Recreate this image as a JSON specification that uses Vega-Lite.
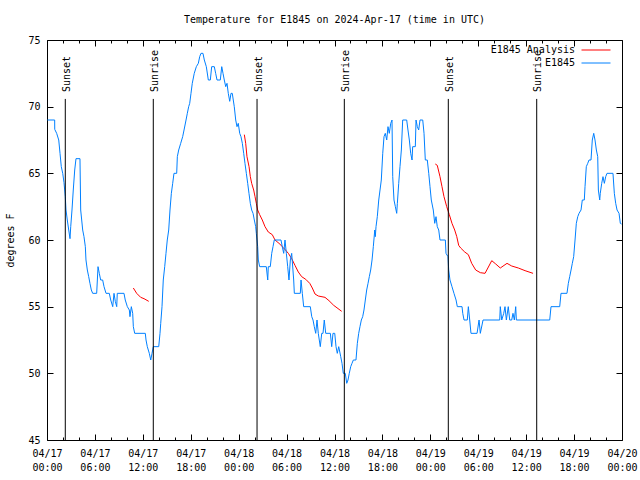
{
  "$schema": "https://vega.github.io/schema/vega-lite/v6.json",
  "width": 575,
  "height": 400,
  "autosize": {"type": "none"},
  "padding": {"left": 47, "top": 40, "right": 18, "bottom": 40},
  "background": "white",
  "title": {"text": "Temperature for E1845 on 2024-Apr-17 (time in UTC)", "font": "DejaVu Sans Mono", "fontSize": 10, "fontWeight": "normal", "color": "black", "anchor": "middle", "offset": 10},
  "config": {
    "view": {"stroke": "black", "strokeWidth": 1},
    "axis": {"grid": false, "domain": false, "labelFont": "DejaVu Sans Mono", "labelFontSize": 10, "labelColor": "black", "tickColor": "black", "tickWidth": 1, "titleFont": "DejaVu Sans Mono", "titleFontSize": 10, "titleFontWeight": "normal", "titleColor": "black"},
    "legend": {"title": null, "orient": "none", "legendX": 543.5, "legendY": 4.5, "labelAlign": "right", "labelOffset": -26.5, "symbolType": "M-2.9,0H2.9", "symbolSize": 100, "symbolStrokeWidth": 1, "labelFont": "DejaVu Sans Mono", "labelFontSize": 10, "labelColor": "black", "rowPadding": 2, "padding": 0}
  },
  "datasets": {
    "temps": [
      {"h":0.05,"t":69,"s":"E1845","r":"b"},{"h":0.96,"t":69,"s":"E1845","r":"b"},{"h":0.97,"t":68.3,"s":"E1845","r":"b"},{"h":1.21,"t":68,"s":"E1845","r":"b"},{"h":1.47,"t":67.5,"s":"E1845","r":"b"},{"h":1.63,"t":66.5,"s":"E1845","r":"b"},{"h":1.79,"t":65.5,"s":"E1845","r":"b"},{"h":1.97,"t":65,"s":"E1845","r":"b"},{"h":2.13,"t":64.3,"s":"E1845","r":"b"},{"h":2.29,"t":63.25,"s":"E1845","r":"b"},{"h":2.38,"t":62.25,"s":"E1845","r":"b"},{"h":2.54,"t":61.5,"s":"E1845","r":"b"},{"h":2.72,"t":60.75,"s":"E1845","r":"b"},{"h":2.88,"t":60.1,"s":"E1845","r":"b"},{"h":2.97,"t":61,"s":"E1845","r":"b"},{"h":3.13,"t":62.25,"s":"E1845","r":"b"},{"h":3.29,"t":63.75,"s":"E1845","r":"b"},{"h":3.47,"t":65.25,"s":"E1845","r":"b"},{"h":3.63,"t":66.1,"s":"E1845","r":"b"},{"h":4.13,"t":66.1,"s":"E1845","r":"b"},{"h":4.22,"t":62.25,"s":"E1845","r":"b"},{"h":4.47,"t":60.75,"s":"E1845","r":"b"},{"h":4.63,"t":60.25,"s":"E1845","r":"b"},{"h":4.8,"t":59.5,"s":"E1845","r":"b"},{"h":4.88,"t":58.5,"s":"E1845","r":"b"},{"h":5.05,"t":57.75,"s":"E1845","r":"b"},{"h":5.22,"t":57.25,"s":"E1845","r":"b"},{"h":5.38,"t":56.75,"s":"E1845","r":"b"},{"h":5.55,"t":56.25,"s":"E1845","r":"b"},{"h":5.72,"t":56,"s":"E1845","r":"b"},{"h":6.22,"t":56,"s":"E1845","r":"b"},{"h":6.39,"t":58,"s":"E1845","r":"b"},{"h":6.55,"t":57.5,"s":"E1845","r":"b"},{"h":6.72,"t":57,"s":"E1845","r":"b"},{"h":6.97,"t":57,"s":"E1845","r":"b"},{"h":7.14,"t":56.5,"s":"E1845","r":"b"},{"h":7.39,"t":56,"s":"E1845","r":"b"},{"h":7.8,"t":56,"s":"E1845","r":"b"},{"h":7.98,"t":55.5,"s":"E1845","r":"b"},{"h":8.23,"t":55,"s":"E1845","r":"b"},{"h":8.39,"t":56,"s":"E1845","r":"b"},{"h":8.55,"t":55.4,"s":"E1845","r":"b"},{"h":8.73,"t":55,"s":"E1845","r":"b"},{"h":8.8,"t":56,"s":"E1845","r":"b"},{"h":9.64,"t":56,"s":"E1845","r":"b"},{"h":9.8,"t":55.5,"s":"E1845","r":"b"},{"h":10.06,"t":55,"s":"E1845","r":"b"},{"h":10.31,"t":54.75,"s":"E1845","r":"b"},{"h":10.39,"t":54.25,"s":"E1845","r":"b"},{"h":10.56,"t":55,"s":"E1845","r":"b"},{"h":10.73,"t":54.5,"s":"E1845","r":"b"},{"h":10.81,"t":53.5,"s":"E1845","r":"b"},{"h":10.98,"t":53,"s":"E1845","r":"b"},{"h":12.31,"t":53,"s":"E1845","r":"b"},{"h":12.4,"t":52.5,"s":"E1845","r":"b"},{"h":12.56,"t":52,"s":"E1845","r":"b"},{"h":12.81,"t":51.5,"s":"E1845","r":"b"},{"h":12.99,"t":51,"s":"E1845","r":"b"},{"h":13.15,"t":51.5,"s":"E1845","r":"b"},{"h":13.31,"t":52,"s":"E1845","r":"b"},{"h":13.99,"t":52,"s":"E1845","r":"b"},{"h":14.15,"t":53,"s":"E1845","r":"b"},{"h":14.24,"t":53.75,"s":"E1845","r":"b"},{"h":14.4,"t":55,"s":"E1845","r":"b"},{"h":14.56,"t":57,"s":"E1845","r":"b"},{"h":14.74,"t":58,"s":"E1845","r":"b"},{"h":14.9,"t":59,"s":"E1845","r":"b"},{"h":15.06,"t":60,"s":"E1845","r":"b"},{"h":15.24,"t":60.75,"s":"E1845","r":"b"},{"h":15.4,"t":62.25,"s":"E1845","r":"b"},{"h":15.57,"t":63.5,"s":"E1845","r":"b"},{"h":15.74,"t":64.25,"s":"E1845","r":"b"},{"h":15.9,"t":65,"s":"E1845","r":"b"},{"h":16.24,"t":65,"s":"E1845","r":"b"},{"h":16.32,"t":66.25,"s":"E1845","r":"b"},{"h":16.49,"t":66.75,"s":"E1845","r":"b"},{"h":16.74,"t":67.25,"s":"E1845","r":"b"},{"h":16.99,"t":67.75,"s":"E1845","r":"b"},{"h":17.16,"t":68.25,"s":"E1845","r":"b"},{"h":17.41,"t":69,"s":"E1845","r":"b"},{"h":17.57,"t":69.5,"s":"E1845","r":"b"},{"h":17.74,"t":70,"s":"E1845","r":"b"},{"h":17.87,"t":70.25,"s":"E1845","r":"b"},{"h":18.03,"t":71,"s":"E1845","r":"b"},{"h":18.19,"t":71.75,"s":"E1845","r":"b"},{"h":18.44,"t":72.5,"s":"E1845","r":"b"},{"h":18.7,"t":73,"s":"E1845","r":"b"},{"h":18.95,"t":73.25,"s":"E1845","r":"b"},{"h":19.12,"t":73.75,"s":"E1845","r":"b"},{"h":19.28,"t":74,"s":"E1845","r":"b"},{"h":19.53,"t":74,"s":"E1845","r":"b"},{"h":19.7,"t":73.5,"s":"E1845","r":"b"},{"h":19.95,"t":73,"s":"E1845","r":"b"},{"h":20.2,"t":72,"s":"E1845","r":"b"},{"h":20.45,"t":72,"s":"E1845","r":"b"},{"h":20.62,"t":73,"s":"E1845","r":"b"},{"h":20.95,"t":73,"s":"E1845","r":"b"},{"h":21.12,"t":72.5,"s":"E1845","r":"b"},{"h":21.29,"t":72,"s":"E1845","r":"b"},{"h":21.7,"t":72,"s":"E1845","r":"b"},{"h":21.88,"t":73,"s":"E1845","r":"b"},{"h":22.04,"t":72.5,"s":"E1845","r":"b"},{"h":22.2,"t":72,"s":"E1845","r":"b"},{"h":22.38,"t":71.5,"s":"E1845","r":"b"},{"h":22.54,"t":71.75,"s":"E1845","r":"b"},{"h":22.7,"t":71,"s":"E1845","r":"b"},{"h":22.88,"t":70.4,"s":"E1845","r":"b"},{"h":23.04,"t":71,"s":"E1845","r":"b"},{"h":23.2,"t":71,"s":"E1845","r":"b"},{"h":23.45,"t":70,"s":"E1845","r":"b"},{"h":23.63,"t":69,"s":"E1845","r":"b"},{"h":23.79,"t":68.5,"s":"E1845","r":"b"},{"h":23.95,"t":68.75,"s":"E1845","r":"b"},{"h":24.13,"t":68,"s":"E1845","r":"b"},{"h":24.29,"t":67.75,"s":"E1845","r":"b"},{"h":24.46,"t":67.25,"s":"E1845","r":"b"},{"h":24.63,"t":66.5,"s":"E1845","r":"b"},{"h":24.79,"t":65.75,"s":"E1845","r":"b"},{"h":24.96,"t":65,"s":"E1845","r":"b"},{"h":25.13,"t":64.25,"s":"E1845","r":"b"},{"h":25.29,"t":63.5,"s":"E1845","r":"b"},{"h":25.46,"t":62.75,"s":"E1845","r":"b"},{"h":25.63,"t":62.25,"s":"E1845","r":"b"},{"h":25.8,"t":62,"s":"E1845","r":"b"},{"h":25.96,"t":61.5,"s":"E1845","r":"b"},{"h":26.13,"t":61,"s":"E1845","r":"b"},{"h":26.21,"t":60.5,"s":"E1845","r":"b"},{"h":26.38,"t":59.5,"s":"E1845","r":"b"},{"h":26.46,"t":58.5,"s":"E1845","r":"b"},{"h":26.63,"t":58,"s":"E1845","r":"b"},{"h":27.46,"t":58,"s":"E1845","r":"b"},{"h":27.64,"t":57,"s":"E1845","r":"b"},{"h":27.71,"t":58,"s":"E1845","r":"b"},{"h":27.96,"t":58,"s":"E1845","r":"b"},{"h":28.14,"t":59,"s":"E1845","r":"b"},{"h":28.3,"t":59.5,"s":"E1845","r":"b"},{"h":28.46,"t":60,"s":"E1845","r":"b"},{"h":29.3,"t":60,"s":"E1845","r":"b"},{"h":29.46,"t":59.5,"s":"E1845","r":"b"},{"h":29.64,"t":59,"s":"E1845","r":"b"},{"h":29.8,"t":60,"s":"E1845","r":"b"},{"h":29.97,"t":59,"s":"E1845","r":"b"},{"h":30.14,"t":58,"s":"E1845","r":"b"},{"h":30.3,"t":57,"s":"E1845","r":"b"},{"h":30.47,"t":58.5,"s":"E1845","r":"b"},{"h":30.64,"t":59,"s":"E1845","r":"b"},{"h":30.89,"t":57,"s":"E1845","r":"b"},{"h":30.97,"t":56,"s":"E1845","r":"b"},{"h":31.72,"t":56,"s":"E1845","r":"b"},{"h":31.81,"t":57,"s":"E1845","r":"b"},{"h":31.97,"t":56,"s":"E1845","r":"b"},{"h":32.14,"t":55,"s":"E1845","r":"b"},{"h":32.97,"t":55,"s":"E1845","r":"b"},{"h":33.15,"t":54.25,"s":"E1845","r":"b"},{"h":33.31,"t":54,"s":"E1845","r":"b"},{"h":33.47,"t":53.5,"s":"E1845","r":"b"},{"h":33.65,"t":53,"s":"E1845","r":"b"},{"h":33.81,"t":54,"s":"E1845","r":"b"},{"h":33.97,"t":53,"s":"E1845","r":"b"},{"h":34.22,"t":52,"s":"E1845","r":"b"},{"h":34.4,"t":53,"s":"E1845","r":"b"},{"h":34.56,"t":53,"s":"E1845","r":"b"},{"h":34.72,"t":54,"s":"E1845","r":"b"},{"h":34.9,"t":53,"s":"E1845","r":"b"},{"h":35.48,"t":53,"s":"E1845","r":"b"},{"h":35.65,"t":52,"s":"E1845","r":"b"},{"h":35.81,"t":53,"s":"E1845","r":"b"},{"h":36.03,"t":53,"s":"E1845","r":"b"},{"h":36.19,"t":52,"s":"E1845","r":"b"},{"h":36.35,"t":51.5,"s":"E1845","r":"b"},{"h":36.53,"t":52,"s":"E1845","r":"b"},{"h":36.78,"t":51.25,"s":"E1845","r":"b"},{"h":36.94,"t":50.75,"s":"E1845","r":"b"},{"h":37.1,"t":50,"s":"E1845","r":"b"},{"h":37.35,"t":50,"s":"E1845","r":"b"},{"h":37.53,"t":49.25,"s":"E1845","r":"b"},{"h":37.69,"t":49.5,"s":"E1845","r":"b"},{"h":37.85,"t":50,"s":"E1845","r":"b"},{"h":38.03,"t":50.5,"s":"E1845","r":"b"},{"h":38.19,"t":50.75,"s":"E1845","r":"b"},{"h":38.36,"t":51,"s":"E1845","r":"b"},{"h":38.69,"t":51,"s":"E1845","r":"b"},{"h":38.86,"t":52.25,"s":"E1845","r":"b"},{"h":39.03,"t":53,"s":"E1845","r":"b"},{"h":39.19,"t":53.5,"s":"E1845","r":"b"},{"h":39.36,"t":54,"s":"E1845","r":"b"},{"h":39.53,"t":54.25,"s":"E1845","r":"b"},{"h":39.69,"t":54.75,"s":"E1845","r":"b"},{"h":39.86,"t":55.5,"s":"E1845","r":"b"},{"h":40.03,"t":56.25,"s":"E1845","r":"b"},{"h":40.2,"t":56.75,"s":"E1845","r":"b"},{"h":40.36,"t":57.25,"s":"E1845","r":"b"},{"h":40.53,"t":57.75,"s":"E1845","r":"b"},{"h":40.7,"t":58.5,"s":"E1845","r":"b"},{"h":40.86,"t":59.5,"s":"E1845","r":"b"},{"h":41.04,"t":60.75,"s":"E1845","r":"b"},{"h":41.11,"t":60.25,"s":"E1845","r":"b"},{"h":41.2,"t":61,"s":"E1845","r":"b"},{"h":41.36,"t":61.75,"s":"E1845","r":"b"},{"h":41.54,"t":63,"s":"E1845","r":"b"},{"h":41.7,"t":63.75,"s":"E1845","r":"b"},{"h":41.86,"t":64.5,"s":"E1845","r":"b"},{"h":42.04,"t":66.5,"s":"E1845","r":"b"},{"h":42.2,"t":67.75,"s":"E1845","r":"b"},{"h":42.36,"t":68,"s":"E1845","r":"b"},{"h":42.54,"t":67.5,"s":"E1845","r":"b"},{"h":42.7,"t":68.5,"s":"E1845","r":"b"},{"h":42.86,"t":68,"s":"E1845","r":"b"},{"h":43.04,"t":68.75,"s":"E1845","r":"b"},{"h":43.2,"t":69,"s":"E1845","r":"b"},{"h":43.29,"t":64.75,"s":"E1845","r":"b"},{"h":43.45,"t":63,"s":"E1845","r":"b"},{"h":43.62,"t":62.5,"s":"E1845","r":"b"},{"h":43.79,"t":62,"s":"E1845","r":"b"},{"h":43.87,"t":62.75,"s":"E1845","r":"b"},{"h":44.04,"t":64.25,"s":"E1845","r":"b"},{"h":44.2,"t":65.5,"s":"E1845","r":"b"},{"h":44.37,"t":66.75,"s":"E1845","r":"b"},{"h":44.54,"t":69,"s":"E1845","r":"b"},{"h":45.04,"t":69,"s":"E1845","r":"b"},{"h":45.2,"t":68.25,"s":"E1845","r":"b"},{"h":45.37,"t":67.5,"s":"E1845","r":"b"},{"h":45.54,"t":66.5,"s":"E1845","r":"b"},{"h":45.71,"t":66,"s":"E1845","r":"b"},{"h":45.79,"t":67,"s":"E1845","r":"b"},{"h":46.12,"t":67,"s":"E1845","r":"b"},{"h":46.21,"t":69,"s":"E1845","r":"b"},{"h":46.37,"t":68.5,"s":"E1845","r":"b"},{"h":46.54,"t":68.25,"s":"E1845","r":"b"},{"h":46.71,"t":69,"s":"E1845","r":"b"},{"h":47.05,"t":69,"s":"E1845","r":"b"},{"h":47.21,"t":68,"s":"E1845","r":"b"},{"h":47.37,"t":66,"s":"E1845","r":"b"},{"h":47.62,"t":66,"s":"E1845","r":"b"},{"h":47.8,"t":65,"s":"E1845","r":"b"},{"h":47.96,"t":64,"s":"E1845","r":"b"},{"h":48.12,"t":63,"s":"E1845","r":"b"},{"h":48.37,"t":62.25,"s":"E1845","r":"b"},{"h":48.55,"t":61.25,"s":"E1845","r":"b"},{"h":48.71,"t":61.75,"s":"E1845","r":"b"},{"h":48.87,"t":61,"s":"E1845","r":"b"},{"h":49.05,"t":60.75,"s":"E1845","r":"b"},{"h":49.21,"t":60,"s":"E1845","r":"b"},{"h":49.88,"t":60,"s":"E1845","r":"b"},{"h":49.96,"t":59,"s":"E1845","r":"b"},{"h":50.21,"t":58.75,"s":"E1845","r":"b"},{"h":50.3,"t":57.75,"s":"E1845","r":"b"},{"h":50.46,"t":57,"s":"E1845","r":"b"},{"h":50.71,"t":56.5,"s":"E1845","r":"b"},{"h":50.96,"t":56,"s":"E1845","r":"b"},{"h":51.22,"t":55.5,"s":"E1845","r":"b"},{"h":51.38,"t":55,"s":"E1845","r":"b"},{"h":51.97,"t":55,"s":"E1845","r":"b"},{"h":52.06,"t":54.5,"s":"E1845","r":"b"},{"h":52.22,"t":54,"s":"E1845","r":"b"},{"h":52.63,"t":54,"s":"E1845","r":"b"},{"h":52.76,"t":55,"s":"E1845","r":"b"},{"h":52.93,"t":54,"s":"E1845","r":"b"},{"h":53.09,"t":53,"s":"E1845","r":"b"},{"h":53.85,"t":53,"s":"E1845","r":"b"},{"h":54.1,"t":54,"s":"E1845","r":"b"},{"h":54.26,"t":53,"s":"E1845","r":"b"},{"h":54.6,"t":54,"s":"E1845","r":"b"},{"h":56.69,"t":54,"s":"E1845","r":"b"},{"h":56.76,"t":55,"s":"E1845","r":"b"},{"h":56.94,"t":54,"s":"E1845","r":"b"},{"h":57.19,"t":54.5,"s":"E1845","r":"b"},{"h":57.35,"t":55,"s":"E1845","r":"b"},{"h":57.52,"t":54,"s":"E1845","r":"b"},{"h":57.76,"t":55,"s":"E1845","r":"b"},{"h":57.94,"t":54,"s":"E1845","r":"b"},{"h":58.19,"t":54,"s":"E1845","r":"b"},{"h":58.35,"t":54.5,"s":"E1845","r":"b"},{"h":58.52,"t":54,"s":"E1845","r":"b"},{"h":58.69,"t":55,"s":"E1845","r":"b"},{"h":58.77,"t":54,"s":"E1845","r":"b"},{"h":62.95,"t":54,"s":"E1845","r":"b"},{"h":63.11,"t":55,"s":"E1845","r":"b"},{"h":64.2,"t":55,"s":"E1845","r":"b"},{"h":64.36,"t":56,"s":"E1845","r":"b"},{"h":65.11,"t":56,"s":"E1845","r":"b"},{"h":65.28,"t":56.75,"s":"E1845","r":"b"},{"h":65.45,"t":57.25,"s":"E1845","r":"b"},{"h":65.62,"t":57.75,"s":"E1845","r":"b"},{"h":65.78,"t":58.25,"s":"E1845","r":"b"},{"h":65.95,"t":58.75,"s":"E1845","r":"b"},{"h":66.12,"t":60,"s":"E1845","r":"b"},{"h":66.28,"t":61.25,"s":"E1845","r":"b"},{"h":66.46,"t":61.75,"s":"E1845","r":"b"},{"h":66.62,"t":62,"s":"E1845","r":"b"},{"h":66.87,"t":62.25,"s":"E1845","r":"b"},{"h":67.03,"t":63,"s":"E1845","r":"b"},{"h":67.28,"t":63,"s":"E1845","r":"b"},{"h":67.37,"t":64,"s":"E1845","r":"b"},{"h":67.53,"t":65.5,"s":"E1845","r":"b"},{"h":67.71,"t":65.75,"s":"E1845","r":"b"},{"h":67.87,"t":66,"s":"E1845","r":"b"},{"h":68.12,"t":66,"s":"E1845","r":"b"},{"h":68.28,"t":67.5,"s":"E1845","r":"b"},{"h":68.46,"t":68,"s":"E1845","r":"b"},{"h":68.62,"t":67.5,"s":"E1845","r":"b"},{"h":68.79,"t":66.75,"s":"E1845","r":"b"},{"h":68.96,"t":66.25,"s":"E1845","r":"b"},{"h":69.04,"t":63.75,"s":"E1845","r":"b"},{"h":69.21,"t":63,"s":"E1845","r":"b"},{"h":69.28,"t":63.5,"s":"E1845","r":"b"},{"h":69.46,"t":64.25,"s":"E1845","r":"b"},{"h":69.62,"t":64.75,"s":"E1845","r":"b"},{"h":69.79,"t":64.25,"s":"E1845","r":"b"},{"h":69.96,"t":64.75,"s":"E1845","r":"b"},{"h":70.12,"t":65,"s":"E1845","r":"b"},{"h":70.87,"t":65,"s":"E1845","r":"b"},{"h":71.04,"t":63.5,"s":"E1845","r":"b"},{"h":71.21,"t":62.75,"s":"E1845","r":"b"},{"h":71.38,"t":62.25,"s":"E1845","r":"b"},{"h":71.63,"t":62,"s":"E1845","r":"b"},{"h":71.79,"t":61.25,"s":"E1845","r":"b"},{"h":71.95,"t":61.2,"s":"E1845","r":"b"},
      {"h":10.81,"t":56.4,"s":"E1845 Analysis","r":"a1"},{"h":11.23,"t":56,"s":"E1845 Analysis","r":"a1"},{"h":11.73,"t":55.7,"s":"E1845 Analysis","r":"a1"},{"h":12.15,"t":55.6,"s":"E1845 Analysis","r":"a1"},{"h":12.74,"t":55.4,"s":"E1845 Analysis","r":"a1"},
      {"h":24.71,"t":67.9,"s":"E1845 Analysis","r":"a2"},{"h":24.88,"t":67.25,"s":"E1845 Analysis","r":"a2"},{"h":25.04,"t":66.25,"s":"E1845 Analysis","r":"a2"},{"h":25.3,"t":65.5,"s":"E1845 Analysis","r":"a2"},{"h":25.46,"t":64.75,"s":"E1845 Analysis","r":"a2"},{"h":25.63,"t":64.25,"s":"E1845 Analysis","r":"a2"},{"h":25.88,"t":63.75,"s":"E1845 Analysis","r":"a2"},{"h":26.05,"t":63.25,"s":"E1845 Analysis","r":"a2"},{"h":26.21,"t":62.75,"s":"E1845 Analysis","r":"a2"},{"h":26.38,"t":62.25,"s":"E1845 Analysis","r":"a2"},{"h":26.63,"t":61.9,"s":"E1845 Analysis","r":"a2"},{"h":26.96,"t":61.5,"s":"E1845 Analysis","r":"a2"},{"h":27.3,"t":61,"s":"E1845 Analysis","r":"a2"},{"h":27.71,"t":60.6,"s":"E1845 Analysis","r":"a2"},{"h":28.21,"t":60.4,"s":"E1845 Analysis","r":"a2"},{"h":28.55,"t":60,"s":"E1845 Analysis","r":"a2"},{"h":29.05,"t":59.75,"s":"E1845 Analysis","r":"a2"},{"h":29.64,"t":59.4,"s":"E1845 Analysis","r":"a2"},{"h":30.22,"t":59,"s":"E1845 Analysis","r":"a2"},{"h":30.64,"t":58.6,"s":"E1845 Analysis","r":"a2"},{"h":31.05,"t":58.1,"s":"E1845 Analysis","r":"a2"},{"h":31.47,"t":57.6,"s":"E1845 Analysis","r":"a2"},{"h":31.89,"t":57.25,"s":"E1845 Analysis","r":"a2"},{"h":32.4,"t":57.05,"s":"E1845 Analysis","r":"a2"},{"h":32.9,"t":56.75,"s":"E1845 Analysis","r":"a2"},{"h":33.22,"t":56.4,"s":"E1845 Analysis","r":"a2"},{"h":33.56,"t":55.95,"s":"E1845 Analysis","r":"a2"},{"h":33.97,"t":55.8,"s":"E1845 Analysis","r":"a2"},{"h":34.81,"t":55.7,"s":"E1845 Analysis","r":"a2"},{"h":35.31,"t":55.45,"s":"E1845 Analysis","r":"a2"},{"h":35.9,"t":55.1,"s":"E1845 Analysis","r":"a2"},{"h":36.9,"t":54.65,"s":"E1845 Analysis","r":"a2"},
      {"h":48.62,"t":65.7,"s":"E1845 Analysis","r":"a3"},{"h":48.87,"t":65.6,"s":"E1845 Analysis","r":"a3"},{"h":49.21,"t":64.75,"s":"E1845 Analysis","r":"a3"},{"h":49.46,"t":64,"s":"E1845 Analysis","r":"a3"},{"h":49.71,"t":63.25,"s":"E1845 Analysis","r":"a3"},{"h":50.05,"t":62.5,"s":"E1845 Analysis","r":"a3"},{"h":50.38,"t":61.9,"s":"E1845 Analysis","r":"a3"},{"h":50.71,"t":61.25,"s":"E1845 Analysis","r":"a3"},{"h":51.05,"t":60.75,"s":"E1845 Analysis","r":"a3"},{"h":51.31,"t":60.25,"s":"E1845 Analysis","r":"a3"},{"h":51.55,"t":59.6,"s":"E1845 Analysis","r":"a3"},{"h":51.8,"t":59.4,"s":"E1845 Analysis","r":"a3"},{"h":52.31,"t":59.1,"s":"E1845 Analysis","r":"a3"},{"h":52.76,"t":58.9,"s":"E1845 Analysis","r":"a3"},{"h":53.18,"t":58.25,"s":"E1845 Analysis","r":"a3"},{"h":53.68,"t":57.75,"s":"E1845 Analysis","r":"a3"},{"h":54.26,"t":57.55,"s":"E1845 Analysis","r":"a3"},{"h":54.85,"t":57.5,"s":"E1845 Analysis","r":"a3"},{"h":55.69,"t":58.45,"s":"E1845 Analysis","r":"a3"},{"h":56.19,"t":58.2,"s":"E1845 Analysis","r":"a3"},{"h":56.76,"t":57.9,"s":"E1845 Analysis","r":"a3"},{"h":57.6,"t":58.25,"s":"E1845 Analysis","r":"a3"},{"h":58.19,"t":58.05,"s":"E1845 Analysis","r":"a3"},{"h":59.02,"t":57.9,"s":"E1845 Analysis","r":"a3"},{"h":59.86,"t":57.7,"s":"E1845 Analysis","r":"a3"},{"h":60.86,"t":57.5,"s":"E1845 Analysis","r":"a3"}
    ],
    "sun": [
      {"h":2.29,"e":"Sunset"},{"h":13.31,"e":"Sunrise"},{"h":26.3,"e":"Sunset"},{"h":37.23,"e":"Sunrise"},{"h":50.25,"e":"Sunset"},{"h":61.32,"e":"Sunrise"}
    ]
  },
  "layer": [
    {
      "data": {"name": "temps"},
      "transform": [{"filter": "datum.s === 'E1845 Analysis'"}],
      "mark": {"type": "line", "strokeWidth": 1, "clip": true},
      "encoding": {
        "x": {"field": "h", "type": "quantitative", "scale": {"domain": [0, 72], "nice": false, "zero": false},
          "axis": {"orient": "top", "title": null, "labels": false, "values": [0,6,12,18,24,30,36,42,48,54,60,66,72], "tickSize": -6}},
        "y": {"field": "t", "type": "quantitative", "scale": {"domain": [45, 75], "nice": false, "zero": false},
          "axis": {"orient": "right", "title": null, "labels": false, "values": [45,50,55,60,65,70,75], "tickSize": -6}},
        "color": {"field": "s", "type": "nominal", "scale": {"domain": ["E1845 Analysis", "E1845"], "range": ["#ff0000", "#0080ff"]},
          "legend": {"encode": {"symbols": {"update": {"stroke": {"scale": "color", "field": "value"}, "fill": {"value": "transparent"}}}}}},
        "detail": {"field": "r"}
      }
    },
    {
      "data": {"name": "temps"},
      "transform": [{"filter": "datum.s === 'E1845'"}],
      "mark": {"type": "line", "strokeWidth": 1, "clip": true},
      "encoding": {
        "x": {"field": "h", "type": "quantitative",
          "axis": {"orient": "bottom", "title": null, "values": [0,6,12,18,24,30,36,42,48,54,60,66,72],
            "labelExpr": "[utcFormat(1713312000000 + datum.value * 3600000, '%m/%d'), utcFormat(1713312000000 + datum.value * 3600000, '%H:%M')]",
            "labelFlush": false, "labelOverlap": false, "labelBound": false, "labelLineHeight": 14, "labelPadding": 14, "labelBaseline": "top",
            "tickSize": -6}},
        "y": {"field": "t", "type": "quantitative",
          "axis": {"orient": "left", "title": "degrees F", "values": [45,50,55,60,65,70,75], "tickSize": -6, "labelPadding": 13, "titlePadding": 12}},
        "color": {"field": "s", "type": "nominal", "scale": {"domain": ["E1845 Analysis", "E1845"], "range": ["#ff0000", "#0080ff"]},
          "legend": {"encode": {"symbols": {"update": {"stroke": {"scale": "color", "field": "value"}, "fill": {"value": "transparent"}}}}}},
        "detail": {"field": "r"}
      }
    },
    {
      "data": {"name": "sun"},
      "mark": {"type": "rule", "color": "black", "strokeWidth": 1},
      "encoding": {
        "x": {"field": "h", "type": "quantitative",
          "axis": {"orient": "bottom", "title": null, "labels": false, "values": [2,4,8,10,14,16,20,22,26,28,32,34,38,40,44,46,50,52,56,58,62,64,68,70], "tickSize": -3}},
        "y": {"datum": 70.58, "type": "quantitative", "axis": null},
        "y2": {"datum": 45}
      }
    },
    {
      "data": {"name": "sun"},
      "mark": {"type": "text", "angle": 270, "align": "left", "baseline": "middle", "dy": 1.5, "font": "DejaVu Sans Mono", "fontSize": 10, "color": "black"},
      "encoding": {
        "x": {"field": "h", "type": "quantitative",
          "axis": {"orient": "top", "title": null, "labels": false, "values": [2,4,8,10,14,16,20,22,26,28,32,34,38,40,44,46,50,52,56,58,62,64,68,70], "tickSize": -3}},
        "y": {"datum": 71.1, "type": "quantitative", "axis": null},
        "text": {"field": "e"}
      }
    }
  ],
  "resolve": {"axis": {"x": "independent", "y": "independent"}}
}
